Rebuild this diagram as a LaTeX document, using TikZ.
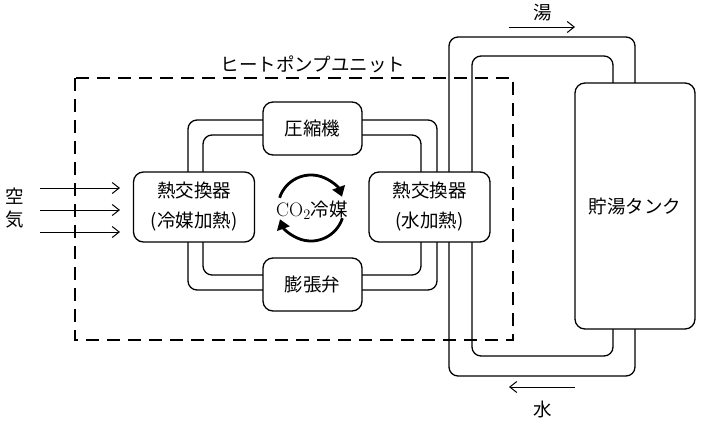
\documentclass[tikz,border=0pt]{standalone}
\usepackage{fontspec}
\newfontfamily\jp{Noto Sans CJK JP}
\usetikzlibrary{arrows.meta}
\begin{document}
\begin{tikzpicture}[x=1pt,y=-1pt,
  box/.style={draw, line width=1.3pt, rounded corners=10pt, fill=white, inner sep=0pt,
    align=center, font=\jp\fontsize{18.5}{30}\selectfont},
  pipe/.style={line width=1.3pt, rounded corners=9pt},
  flow/.style={line width=1pt, -{Straight Barb[length=7pt,width=11pt,line width=1pt]}},
  cyc/.style={line width=2.8pt, -{Triangle[length=10pt,width=13pt]}},
  lbl/.style={font=\jp\fontsize{18.5}{23}\selectfont, inner sep=0pt, align=center},
  unit/.style={line width=1.3pt, dash pattern=on 13pt off 8pt}]
\useasboundingbox (0,0) rectangle (712,423);
% heat pump unit boundary
\draw[unit] (75,78) rectangle (513,340);
\node[lbl] (title) at (313,64) {ヒートポンプユニット};
% refrigerant pipes
\draw[pipe] (263,120) -| (188,172);
\draw[pipe] (263,135) -| (203,172);
\draw[pipe] (362,120) -| (437,172);
\draw[pipe] (362,135) -| (421,172);
\draw[pipe] (263,290) -| (188,242);
\draw[pipe] (263,275) -| (203,242);
\draw[pipe] (362,290) -| (437,242);
\draw[pipe] (362,275) -| (421,242);
% water pipes
\draw[pipe] (449,172) |- (635,37) -- (635,83);
\draw[pipe] (472,172) |- (613,56) -- (613,83);
\draw[pipe] (449,242) |- (635,376) -- (635,329);
\draw[pipe] (472,242) |- (613,356) -- (613,329);
% components
\node[box, minimum width=99pt, minimum height=53pt] (comp) at (312.5,128.5) {圧縮機};
\node[box, minimum width=99pt, minimum height=53pt] (valve) at (312.5,284.5) {膨張弁};
\node[box, minimum width=121pt, minimum height=70pt] (lhx) at (194,207) {熱交換器\\(冷媒加熱)};
\node[box, minimum width=121pt, minimum height=70pt] (rhx) at (429.5,207) {熱交換器\\(水加熱)};
\node[box, minimum width=120pt, minimum height=246pt] (tank) at (635,206) {貯湯タンク};
% refrigerant cycle
\draw[cyc] (311,208) ++(198:33) arc[start angle=198, end angle=340, radius=33];
\draw[cyc] (311,208) ++(18:33) arc[start angle=18, end angle=160, radius=33];
\node[lbl] (co2) at (312,210) {{\rmfamily\fontsize{19.5}{20}\selectfont CO$_2$}冷媒};
% air
\node[lbl] (air) at (15,208) {空\\気};
\coordinate (a1s) at (40,188); \coordinate (a1e) at (120,188);
\coordinate (a2s) at (40,210); \coordinate (a2e) at (120,210);
\coordinate (a3s) at (40,232); \coordinate (a3e) at (120,232);
\draw[flow] (a1s) -- (a1e);
\draw[flow] (a2s) -- (a2e);
\draw[flow] (a3s) -- (a3e);
% hot water / water
\node[lbl] (hot) at (543,13) {湯};
\node[lbl] (cold) at (543,409) {水};
\coordinate (h1) at (509,27); \coordinate (h2) at (575,27);
\coordinate (c1) at (575,387); \coordinate (c2) at (509,387);
\draw[flow] (h1) -- (h2);
\draw[flow] (c1) -- (c2);
\end{tikzpicture}
\end{document}
